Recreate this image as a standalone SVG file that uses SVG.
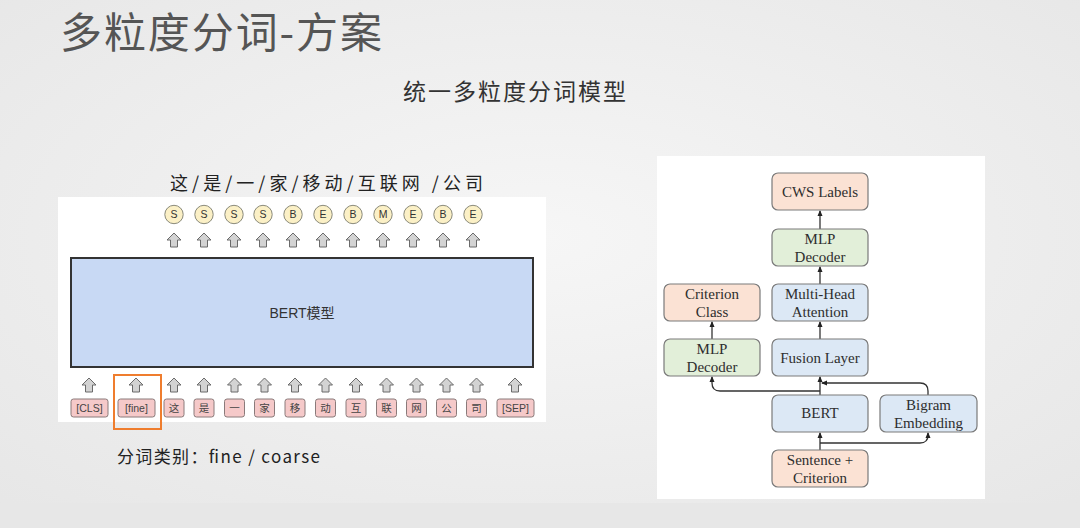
<svg xmlns="http://www.w3.org/2000/svg" width="1080" height="528" viewBox="0 0 1080 528">
<defs>
<radialGradient id="bg" cx="0.5" cy="0.45" r="0.75">
<stop offset="0" stop-color="#f6f6f6"/>
<stop offset="1" stop-color="#e6e6e6"/>
</radialGradient>
<marker id="ah" markerUnits="userSpaceOnUse" markerWidth="6" markerHeight="6" refX="5" refY="3" orient="auto">
<path d="M0,0.5 L6,3 L0,5.5 z" fill="#222"/>
</marker>
<path id="uparrow" d="M0,-7 L7,0 L3.5,0 L3.5,7 L-3.5,7 L-3.5,0 L-7,0 z"/>
</defs>
<style>
.cjk{font-family:"Noto Sans CJK SC","Liberation Sans",sans-serif;}
.sans{font-family:"Liberation Sans","Noto Sans CJK SC",sans-serif;}
.ser{font-family:"Liberation Serif",serif;font-size:15px;fill:#2e2e2e;text-anchor:middle;}
.ua{fill:#d3d3d3;stroke:#6a6a6a;stroke-width:1;}
.circ{fill:#fbf0c6;stroke:#8a8a7a;stroke-width:1;}
.ctext{font-family:"Liberation Sans",sans-serif;font-size:10.5px;fill:#333;text-anchor:middle;}
.tok{fill:#f5c9c9;stroke:#8a7a7a;stroke-width:1;}
.ttext{font-family:"Liberation Sans","Noto Sans CJK SC",sans-serif;font-size:10.5px;fill:#444;text-anchor:middle;}
.peach{fill:#fbe2d4;stroke:#7a7a7a;stroke-width:1.2;}
.green{fill:#e2efd9;stroke:#7a7a7a;stroke-width:1.2;}
.blue{fill:#dce8f5;stroke:#7a7a7a;stroke-width:1.2;}
.conn{fill:none;stroke:#333;stroke-width:1.3;}
</style>
<rect x="0" y="0" width="1080" height="528" fill="url(#bg)"/>
<rect x="0" y="503" width="1080" height="25" fill="#e7e7e7"/>

<text x="60" y="48" class="cjk" font-size="42" fill="#555" textLength="322" lengthAdjust="spacing">多粒度分词-方案</text>
<text x="403" y="100" class="cjk" font-size="23" fill="#333" textLength="223" lengthAdjust="spacing">统一多粒度分词模型</text>

<g id="left-panel">
<rect x="58" y="197" width="488" height="225" fill="#ffffff"/>
</g>

<g id="sentence">
<text x="170" y="190" class="cjk" font-size="18" fill="#222" textLength="313" lengthAdjust="spacing">这/是/一/家/移动/互联网 /公司</text>
</g>

<g id="labels">
<circle class="circ" cx="174" cy="214.5" r="9.2"/><text class="ctext" x="174" y="218.3">S</text>
<circle class="circ" cx="204" cy="214.5" r="9.2"/><text class="ctext" x="204" y="218.3">S</text>
<circle class="circ" cx="234" cy="214.5" r="9.2"/><text class="ctext" x="234" y="218.3">S</text>
<circle class="circ" cx="263" cy="214.5" r="9.2"/><text class="ctext" x="263" y="218.3">S</text>
<circle class="circ" cx="293" cy="214.5" r="9.2"/><text class="ctext" x="293" y="218.3">B</text>
<circle class="circ" cx="323" cy="214.5" r="9.2"/><text class="ctext" x="323" y="218.3">E</text>
<circle class="circ" cx="353" cy="214.5" r="9.2"/><text class="ctext" x="353" y="218.3">B</text>
<circle class="circ" cx="383" cy="214.5" r="9.2"/><text class="ctext" x="383" y="218.3">M</text>
<circle class="circ" cx="413" cy="214.5" r="9.2"/><text class="ctext" x="413" y="218.3">E</text>
<circle class="circ" cx="443" cy="214.5" r="9.2"/><text class="ctext" x="443" y="218.3">B</text>
<circle class="circ" cx="473" cy="214.5" r="9.2"/><text class="ctext" x="473" y="218.3">E</text>
</g>

<g id="top-arrows">
<use href="#uparrow" class="ua" x="174" y="240"/>
<use href="#uparrow" class="ua" x="204" y="240"/>
<use href="#uparrow" class="ua" x="234" y="240"/>
<use href="#uparrow" class="ua" x="263" y="240"/>
<use href="#uparrow" class="ua" x="293" y="240"/>
<use href="#uparrow" class="ua" x="323" y="240"/>
<use href="#uparrow" class="ua" x="353" y="240"/>
<use href="#uparrow" class="ua" x="383" y="240"/>
<use href="#uparrow" class="ua" x="413" y="240"/>
<use href="#uparrow" class="ua" x="443" y="240"/>
<use href="#uparrow" class="ua" x="473" y="240"/>
</g>

<g id="bert-model">
<rect x="71" y="258" width="462" height="109" fill="#c8d9f4" stroke="#333" stroke-width="2"/>
<text x="302" y="318" class="sans" font-size="14" fill="#333" text-anchor="middle">BERT模型</text>
</g>

<g id="bottom-arrows">
<use href="#uparrow" class="ua" x="89" y="385"/>
<use href="#uparrow" class="ua" x="136" y="385"/>
<use href="#uparrow" class="ua" x="174" y="385"/>
<use href="#uparrow" class="ua" x="204" y="385"/>
<use href="#uparrow" class="ua" x="234.5" y="385"/>
<use href="#uparrow" class="ua" x="264.5" y="385"/>
<use href="#uparrow" class="ua" x="295" y="385"/>
<use href="#uparrow" class="ua" x="325.5" y="385"/>
<use href="#uparrow" class="ua" x="356" y="385"/>
<use href="#uparrow" class="ua" x="386.5" y="385"/>
<use href="#uparrow" class="ua" x="416.5" y="385"/>
<use href="#uparrow" class="ua" x="446.5" y="385"/>
<use href="#uparrow" class="ua" x="476.5" y="385"/>
<use href="#uparrow" class="ua" x="515" y="385"/>
</g>

<g id="tokens">
<rect class="tok" x="71" y="399" width="37" height="18" rx="2.5"/><text class="ttext" x="89.5" y="412">[CLS]</text>
<rect class="tok" x="118" y="399" width="37" height="18" rx="2.5"/><text class="ttext" x="136.5" y="412">[fine]</text>
<rect class="tok" x="164" y="399" width="20" height="18" rx="2.5"/><text class="ttext" x="174" y="412">这</text>
<rect class="tok" x="194" y="399" width="20" height="18" rx="2.5"/><text class="ttext" x="204" y="412">是</text>
<rect class="tok" x="224.5" y="399" width="20" height="18" rx="2.5"/><text class="ttext" x="234.5" y="412">一</text>
<rect class="tok" x="254.5" y="399" width="20" height="18" rx="2.5"/><text class="ttext" x="264.5" y="412">家</text>
<rect class="tok" x="285" y="399" width="20" height="18" rx="2.5"/><text class="ttext" x="295" y="412">移</text>
<rect class="tok" x="315.5" y="399" width="20" height="18" rx="2.5"/><text class="ttext" x="325.5" y="412">动</text>
<rect class="tok" x="346" y="399" width="20" height="18" rx="2.5"/><text class="ttext" x="356" y="412">互</text>
<rect class="tok" x="376.5" y="399" width="20" height="18" rx="2.5"/><text class="ttext" x="386.5" y="412">联</text>
<rect class="tok" x="406.5" y="399" width="20" height="18" rx="2.5"/><text class="ttext" x="416.5" y="412">网</text>
<rect class="tok" x="436.5" y="399" width="20" height="18" rx="2.5"/><text class="ttext" x="446.5" y="412">公</text>
<rect class="tok" x="466.5" y="399" width="20" height="18" rx="2.5"/><text class="ttext" x="476.5" y="412">司</text>
<rect class="tok" x="497" y="399" width="37" height="18" rx="2.5"/><text class="ttext" x="515.5" y="412">[SEP]</text>
</g>

<g id="fine-highlight">
<rect x="114" y="375" width="47" height="54" fill="none" stroke="#ef7d2e" stroke-width="2"/>
</g>

<g id="caption">
<text x="117" y="463" class="cjk" font-size="17" fill="#222" textLength="203" lengthAdjust="spacing">分词类别：fine / coarse</text>
</g>

<g id="right-panel">
<rect x="657" y="156" width="328" height="343" fill="#ffffff"/>
</g>

<g id="connectors">
<path class="conn" d="M820,229 V211" marker-end="url(#ah)"/>
<path class="conn" d="M820,284 V267" marker-end="url(#ah)"/>
<path class="conn" d="M820,339 V322" marker-end="url(#ah)"/>
<path class="conn" d="M712,339 V322" marker-end="url(#ah)"/>
<path class="conn" d="M820,395 V377" marker-end="url(#ah)"/>
<path class="conn" d="M820,391 H720 Q712,391 712,383 V377" marker-end="url(#ah)"/>
<path class="conn" d="M928,395 V391 Q928,383 920,383 H822" marker-end="url(#ah)"/>
<path class="conn" d="M820,450 V433" marker-end="url(#ah)"/>
<path class="conn" d="M820,443 H920 Q928,443 928,435 V433" marker-end="url(#ah)"/>
</g>

<g id="cws-labels">
<rect class="peach" x="772" y="173" width="96" height="37" rx="6"/>
<text class="ser" x="820" y="197">CWS Labels</text>
</g>
<g id="mlp-decoder-top">
<rect class="green" x="772" y="229" width="96" height="37" rx="6"/>
<text class="ser" x="820" y="244">MLP</text>
<text class="ser" x="820" y="262">Decoder</text>
</g>
<g id="multi-head-attention">
<rect class="blue" x="772" y="284" width="96" height="37" rx="6"/>
<text class="ser" x="820" y="299">Multi-Head</text>
<text class="ser" x="820" y="317">Attention</text>
</g>
<g id="criterion-class">
<rect class="peach" x="664" y="284" width="96" height="37" rx="6"/>
<text class="ser" x="712" y="299">Criterion</text>
<text class="ser" x="712" y="317">Class</text>
</g>
<g id="mlp-decoder-left">
<rect class="green" x="664" y="339" width="96" height="37" rx="6"/>
<text class="ser" x="712" y="354">MLP</text>
<text class="ser" x="712" y="372">Decoder</text>
</g>
<g id="fusion-layer">
<rect class="blue" x="772" y="339" width="96" height="37" rx="6"/>
<text class="ser" x="820" y="363">Fusion Layer</text>
</g>
<g id="bert">
<rect class="blue" x="772" y="395" width="96" height="37" rx="6"/>
<text class="ser" x="820" y="418">BERT</text>
</g>
<g id="bigram-embedding">
<rect class="blue" x="880" y="395" width="97" height="37" rx="6"/>
<text class="ser" x="928.5" y="410">Bigram</text>
<text class="ser" x="928.5" y="428">Embedding</text>
</g>
<g id="sentence-criterion">
<rect class="peach" x="772" y="450" width="96" height="37" rx="6"/>
<text class="ser" x="820" y="465">Sentence +</text>
<text class="ser" x="820" y="483">Criterion</text>
</g>
</svg>
